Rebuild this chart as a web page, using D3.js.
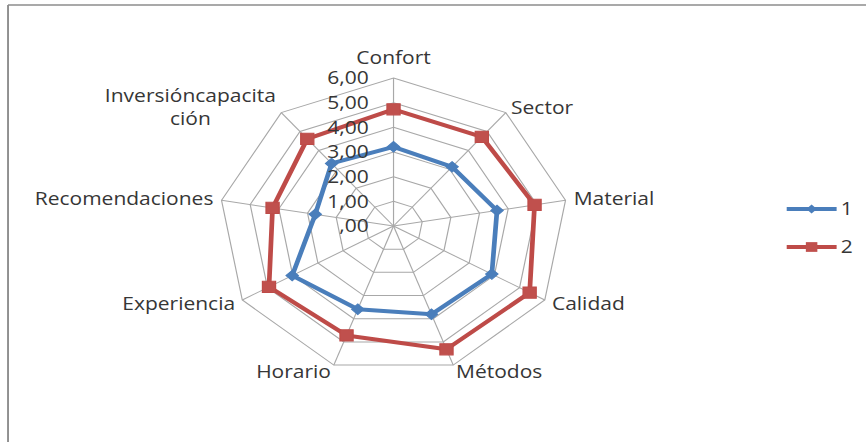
<!DOCTYPE html>
<html>
<head>
<meta charset="utf-8">
<script src="https://cdn.jsdelivr.net/npm/d3@7"></script>
<style>
  html, body { margin: 0; padding: 0; background: #ffffff; }
  svg { display: block; }
  text { font-family: "Open Sans", "Noto Sans", sans-serif; fill: #363636; }
</style>
</head>
<body>
<div id="chart"></div>
<script>
// ---- data ----
const categories = ["Confort", "Sector", "Material", "Calidad", "Métodos", "Horario", "Experiencia", "Recomendaciones", "Inversióncapacitación"];
const categoryLabelLines = [["Confort"], ["Sector"], ["Material"], ["Calidad"], ["Métodos"], ["Horario"], ["Experiencia"], ["Recomendaciones"], ["Inversióncapacita", "ción"]];
const seriesNames = ["1", "2"];
const series1 = [3.21, 3.13, 3.61, 3.90, 3.81, 3.59, 4.02, 2.73, 3.31];
const series2 = [4.73, 4.72, 4.92, 5.40, 5.32, 4.72, 4.94, 4.22, 4.61];
const tickValues = [0, 1, 2, 3, 4, 5, 6];
const tickLabels = [",00", "1,00", "2,00", "3,00", "4,00", "5,00", "6,00"];

// ---- layout ----
const width = 866, height = 442;
const sx = 1.18;                 // horizontal stretch of the original picture
const vbW = width / sx;
const cx = 333.5, cy = 226, R = 148;
const colors = ["#4A7EBB", "#BE4B48"];
const markerColors = ["#4A7EBB", "#C0504D"];
const fontSize = 17.8;

const svg = d3.select("#chart").append("svg")
  .attr("width", width).attr("height", height)
  .attr("viewBox", `0 0 ${vbW} ${height}`)
  .attr("preserveAspectRatio", "none");

// frame (top and left borders)
svg.append("line").attr("x1", 6.8).attr("x2", vbW).attr("y1", 5).attr("y2", 5)
  .attr("stroke", "#8c8c8c").attr("stroke-width", 1.6);
svg.append("line").attr("x1", 6.8).attr("x2", 6.8).attr("y1", 5).attr("y2", height)
  .attr("stroke", "#8c8c8c").attr("stroke-width", 1.6);

const angle = d3.scaleBand().domain(categories).range([0, 2 * Math.PI]).paddingInner(0).paddingOuter(0);
const r = d3.scaleLinear().domain([0, 6]).range([0, R]);

const g = svg.append("g").attr("transform", `translate(${cx},${cy})`);

const pt = (a, rad) => [rad * Math.sin(a), -rad * Math.cos(a)];

// grid polygons
const gridLine = d3.lineRadial().angle(d => angle(d)).curve(d3.curveLinearClosed);
tickValues.filter(t => t > 0).forEach(t => {
  g.append("path")
    .attr("d", gridLine.radius(() => r(t))(categories))
    .attr("fill", "none").attr("stroke", "#a8a8a8").attr("stroke-width", 1);
});
// spokes
categories.forEach(c => {
  const [x, y] = pt(angle(c), r(6));
  g.append("line").attr("x1", 0).attr("y1", 0).attr("x2", x).attr("y2", y)
    .attr("stroke", "#a8a8a8").attr("stroke-width", 1);
});

// series
const allSeries = [series1, series2];
const valLine = d3.lineRadial()
  .angle((d, i) => angle(categories[i]))
  .radius(d => r(d))
  .curve(d3.curveLinearClosed);

allSeries.forEach((s, k) => {
  g.append("path").attr("d", valLine(s))
    .attr("fill", "none").attr("stroke", colors[k]).attr("stroke-width", 4)
    .attr("stroke-linejoin", "round");
});
// markers
const diamond = d3.symbol().type(d3.symbolSquare).size(55);
const square = d3.symbol().type(d3.symbolSquare).size(125);
series1.forEach((v, i) => {
  const [x, y] = pt(angle(categories[i]), r(v));
  g.append("path").attr("d", diamond())
    .attr("transform", `translate(${x},${y}) rotate(45)`)
    .attr("fill", markerColors[0]).attr("stroke", colors[0]).attr("stroke-width", 1);
});
series2.forEach((v, i) => {
  const [x, y] = pt(angle(categories[i]), r(v));
  g.append("path").attr("d", square())
    .attr("transform", `translate(${x},${y})`)
    .attr("fill", markerColors[1]).attr("stroke", colors[1]).attr("stroke-width", 1);
});

// tick labels
tickValues.forEach((t, i) => {
  g.append("text")
    .attr("x", -21).attr("y", -r(t))
    .attr("dy", "0.36em")
    .attr("text-anchor", "end")
    .attr("font-size", fontSize)
    .text(tickLabels[i]);
});

// category labels
const pad = 7;
const lineH = 23;
categories.forEach((c, i) => {
  const a = angle(c);
  const s = Math.sin(a), co = Math.cos(a);
  const [vx, vy] = pt(a, r(6));
  const lines = categoryLabelLines[i];
  let x = vx + s * pad;
  let y = vy - co * pad;
  let anchor = s > 0.1 ? "start" : (s < -0.1 ? "end" : "middle");
  if (anchor === "middle") y -= 13;
  const t = g.append("text").attr("font-size", fontSize).attr("text-anchor", anchor);
  const n = lines.length;
  lines.forEach((ln, j) => {
    t.append("tspan").attr("x", x).attr("y", y + (j - (n - 1) / 2) * lineH)
      .attr("dy", "0.36em").text(ln);
  });
  if (n > 1) {
    // multi-line labels are centred as a block, right edge near the vertex
    const bb = t.node().getBBox();
    const mid = bb.x + bb.width / 2;
    t.attr("text-anchor", "middle");
    t.selectAll("tspan").attr("x", mid);
  }
});

// legend
const legX1 = 666.7, legX2 = 709, legMx = 687.8, legTx = 712.5;
const legY = [209, 247];
seriesNames.forEach((name, k) => {
  const lg = svg.append("g");
  lg.append("line").attr("x1", legX1).attr("x2", legX2).attr("y1", legY[k]).attr("y2", legY[k])
    .attr("stroke", colors[k]).attr("stroke-width", 3.8);
  if (k === 0) {
    lg.append("path").attr("d", d3.symbol().type(d3.symbolSquare).size(40)())
      .attr("transform", `translate(${legMx},${legY[k]}) rotate(45)`)
      .attr("fill", markerColors[0]);
  } else {
    lg.append("path").attr("d", d3.symbol().type(d3.symbolSquare).size(95)())
      .attr("transform", `translate(${legMx},${legY[k]})`)
      .attr("fill", markerColors[1]);
  }
  lg.append("text").attr("x", legTx).attr("y", legY[k]).attr("dy", "0.36em")
    .attr("font-size", fontSize).text(name);
});
</script>
</body>
</html>
